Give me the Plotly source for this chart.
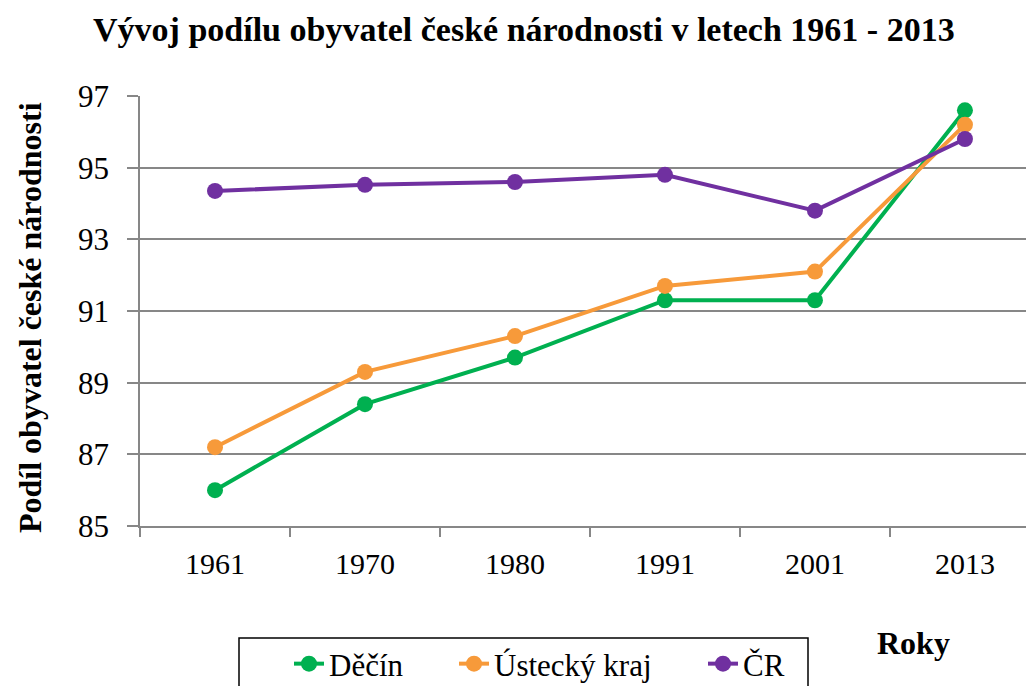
import plotly.graph_objects as go

years = ["1961", "1970", "1980", "1991", "2001", "2013"]
decin = [86.0, 88.4, 89.7, 91.3, 91.3, 96.6]
ustecky = [87.2, 89.3, 90.3, 91.7, 92.1, 96.2]
cr = [94.35, 94.52, 94.6, 94.8, 93.8, 95.8]

series_names = ["Děčín", "Ústecký kraj", "ČR"]
series_colors = ["#00B050", "#F79A3A", "#7030A0"]
y_ticks = [85, 87, 89, 91, 93, 95, 97]

FONT = "Liberation Serif, Times New Roman, serif"
W, H = 1026, 686
L, R, T, B = 140, 0, 96, 160
PW, PH = W - L - R, H - T - B


def px_x(x):
    return (x - L) / PW


def px_y(y):
    return (H - B - y) / PH


legend_ids = ["legend", "legend2", "legend3"]
legend_text_x = [332, 497, 746]

fig = go.Figure()
for name, vals, col, lid in zip(series_names, [decin, ustecky, cr], series_colors, legend_ids):
    fig.add_trace(go.Scatter(
        x=years, y=vals, name=name, mode="lines+markers",
        line=dict(color=col, width=4),
        marker=dict(color=col, size=16),
        legend=lid,
    ))

layout_legends = {}
for lid, tx in zip(legend_ids, legend_text_x):
    layout_legends[lid] = dict(
        orientation="h",
        xref="container", yref="container",
        x=(tx - 43) / W, y=(H - 637) / H,
        xanchor="left", yanchor="top",
        font=dict(size=31, family=FONT),
        bgcolor="rgba(0,0,0,0)", borderwidth=0,
    )

fig.update_layout(
    width=W, height=H,
    margin=dict(l=L, r=R, t=T, b=B),
    paper_bgcolor="white", plot_bgcolor="white",
    font=dict(family=FONT, color="black", size=30),
    showlegend=True,
    **layout_legends,
)

fig.add_shape(
    type="rect", xref="paper", yref="paper",
    x0=px_x(239), x1=px_x(808), y0=px_y(638), y1=px_y(720),
    line=dict(color="black", width=1.5), fillcolor="rgba(0,0,0,0)",
)

fig.update_xaxes(
    type="category", range=[-0.5, 5.407],
    tickson="boundaries", ticks="outside", ticklen=9, tickcolor="#878787", tickwidth=1.5,
    showline=True, linecolor="#878787", linewidth=1.5,
    showgrid=False, ticklabelstandoff=10,
    tickfont=dict(size=30, family=FONT),
)
fig.update_yaxes(
    range=[85, 97], tickvals=y_ticks, ticks="outside", ticklen=11,
    tickcolor="#878787", tickwidth=1.5,
    showline=True, linecolor="#878787", linewidth=1.5,
    showgrid=True, gridcolor="#878787", gridwidth=1.5,
    zeroline=False, ticklabelstandoff=12,
    tickfont=dict(size=31, family=FONT),
)

fig.add_annotation(
    text="<b>Vývoj podílu obyvatel české národnosti v letech 1961 - 2013</b>",
    xref="paper", yref="paper", x=px_x(524), y=px_y(29),
    showarrow=False, xanchor="center", yanchor="middle",
    font=dict(size=34, family=FONT),
)
fig.add_annotation(
    text="<b>Podíl obyvatel české národnosti</b>",
    xref="paper", yref="paper", x=px_x(30), y=px_y(318),
    showarrow=False, xanchor="center", yanchor="middle", textangle=-90,
    font=dict(size=32, family=FONT),
)
fig.add_annotation(
    text="<b>Roky</b>",
    xref="paper", yref="paper", x=px_x(913), y=px_y(643),
    showarrow=False, xanchor="center", yanchor="middle",
    font=dict(size=32, family=FONT),
)

fig.write_html(
    "out.html",
    config={"displayModeBar": False},
    post_script="document.body.style.margin='0';document.body.style.overflow='hidden';",
)
